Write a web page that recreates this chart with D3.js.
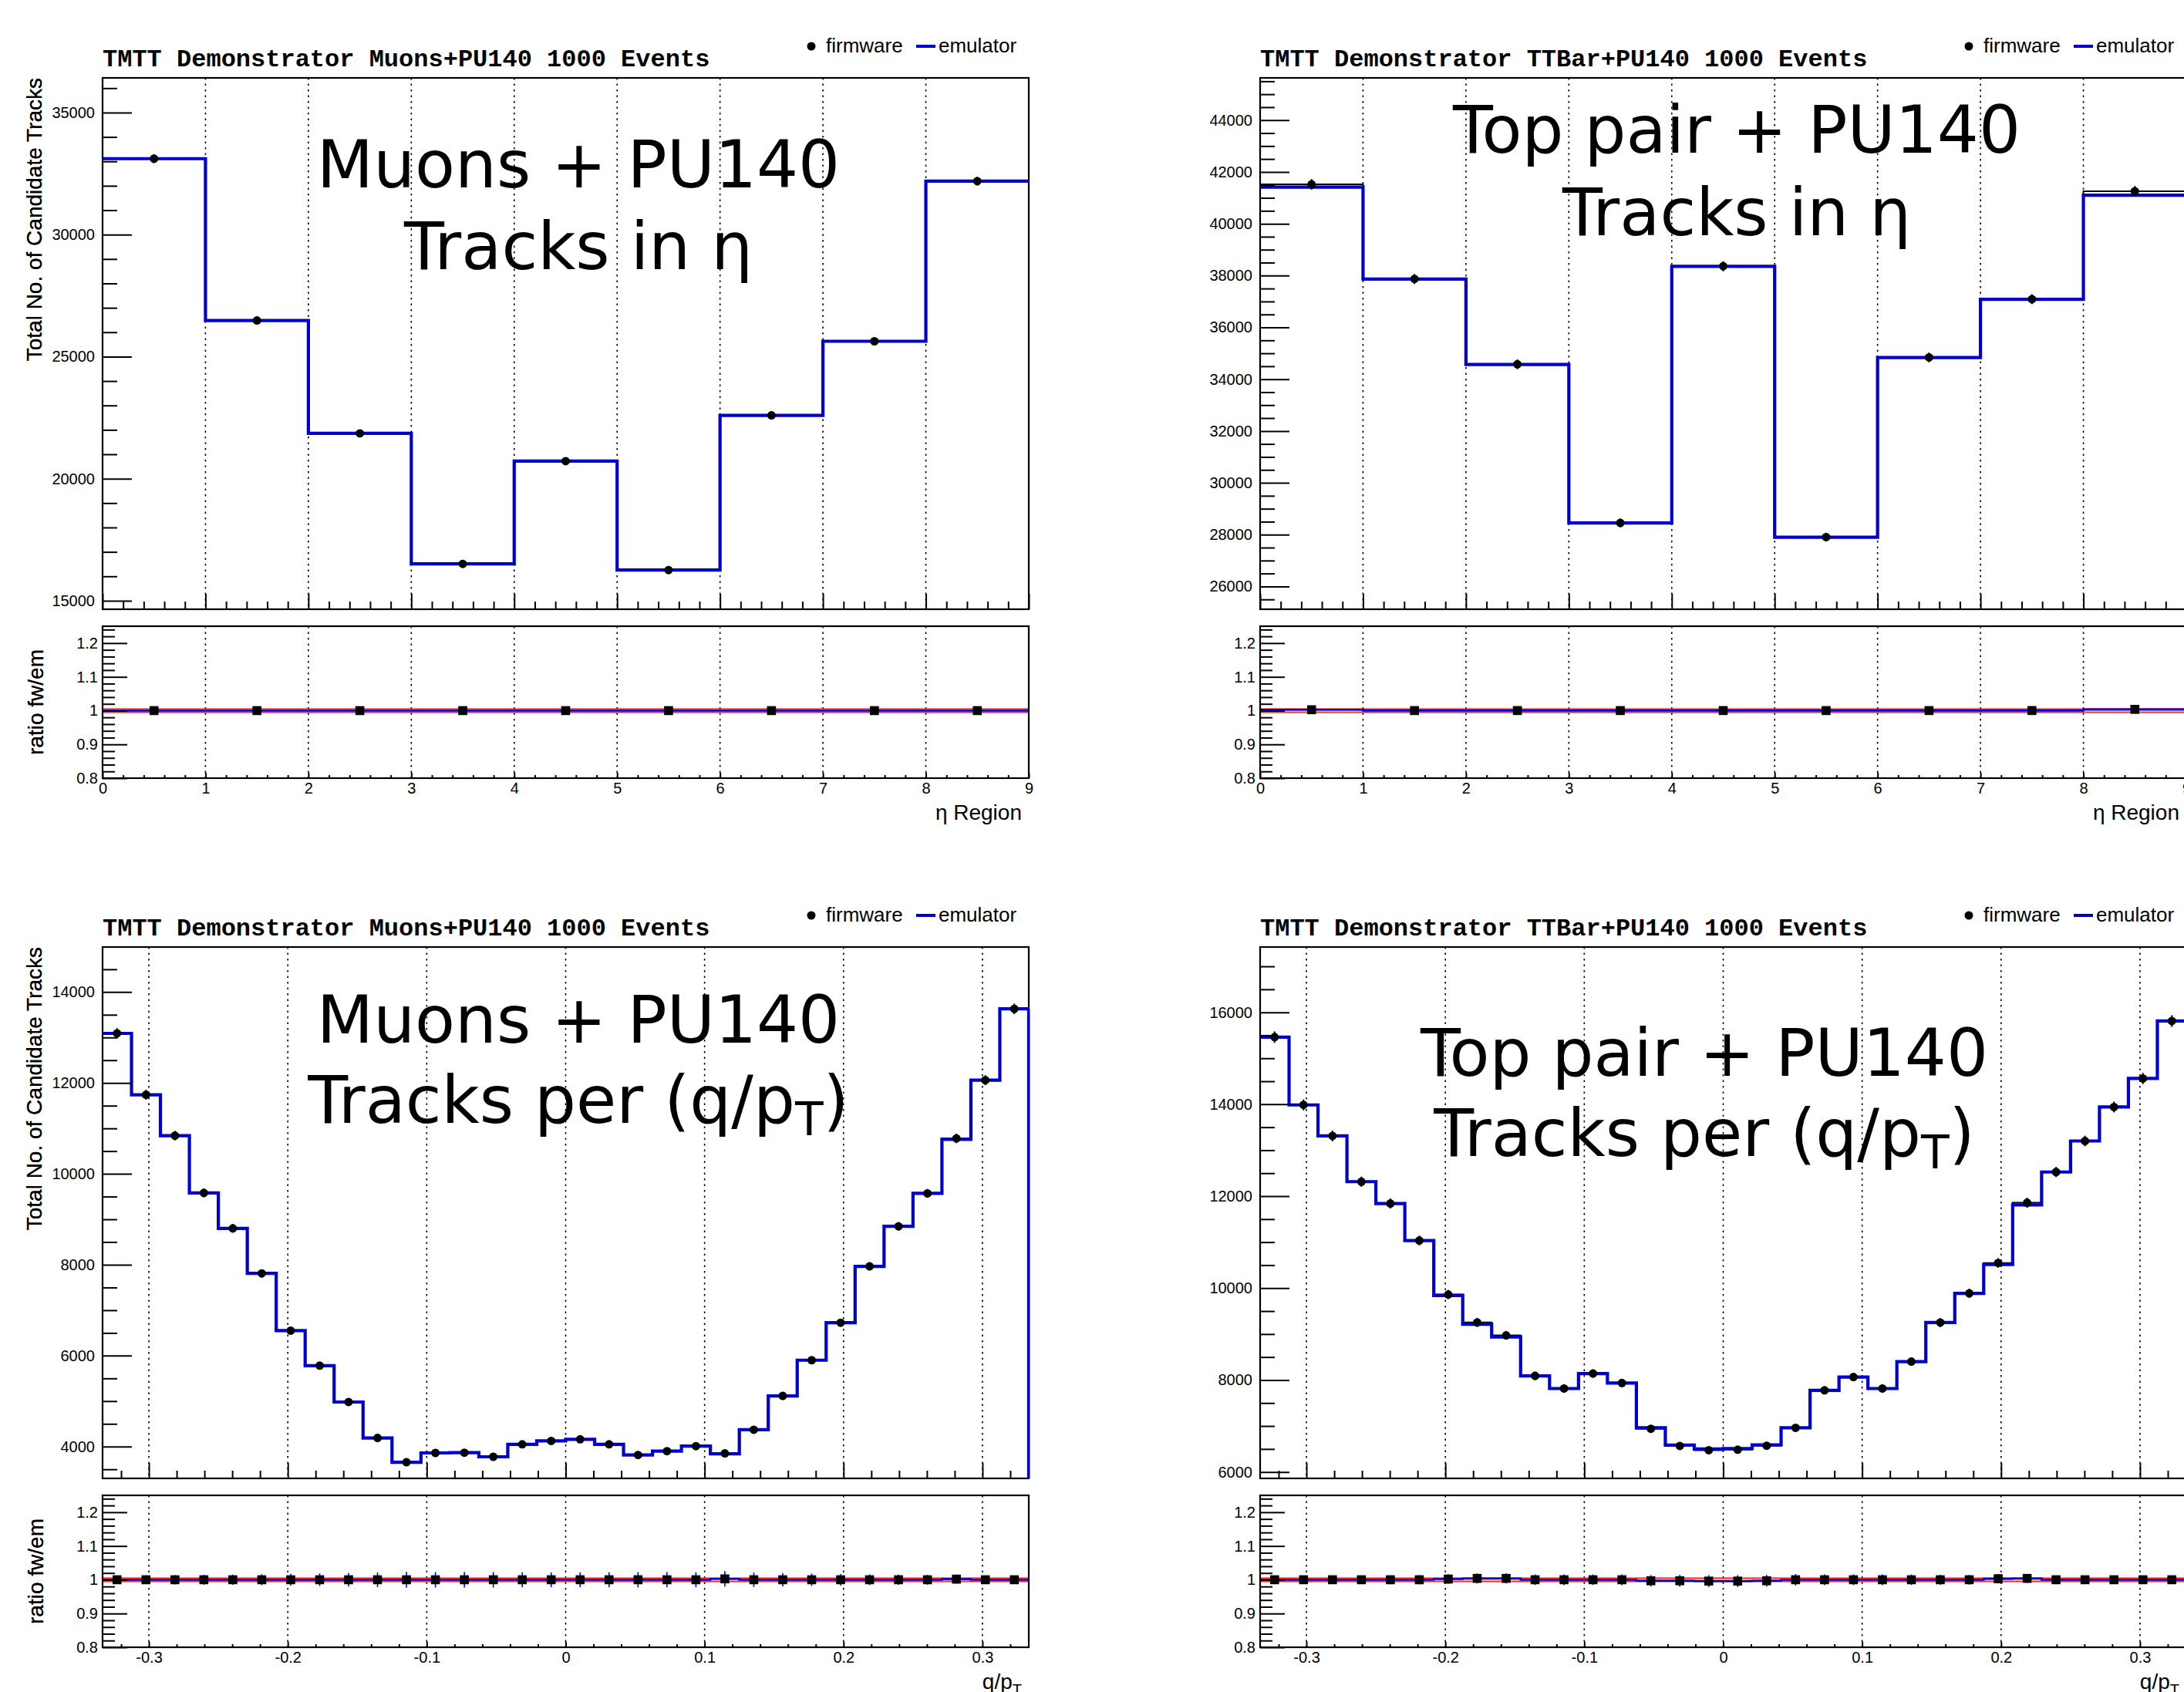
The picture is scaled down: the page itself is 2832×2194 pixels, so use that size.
<!DOCTYPE html>
<html><head><meta charset="utf-8">
<script src="https://cdn.jsdelivr.net/npm/d3@7"></script>
<style>body{margin:0;background:#fff}svg{display:block}</style>
</head><body>
<svg id="c" width="2832" height="2194"></svg>
<script>
// ---------------- DATA ----------------
const etaTickValues = [0,1,2,3,4,5,6,7,8,9];
const etaTickLabels = ["0","1","2","3","4","5","6","7","8","9"];
const qptTickValues = [-0.3,-0.2,-0.1,0,0.1,0.2,0.3];
const qptTickLabels = ["-0.3","-0.2","-0.1","0","0.1","0.2","0.3"];

const etaMuonsEmulator = [33110, 26480, 21855, 16510, 20720, 16255, 22595, 25630, 32190];
const etaMuonsFirmware = [33110, 26480, 21855, 16510, 20720, 16255, 22595, 25630, 32190];
const etaTTbarEmulator = [41413, 37865, 34569, 28449, 38353, 27902, 34835, 37082, 41103];
const etaTTbarFirmware = [41520, 37870, 34575, 28452, 38360, 27905, 34840, 37090, 41255];

const qptMuonsEmulator = [13090, 11740, 10840, 9580, 8800, 7810, 6550, 5780, 4980, 4190, 3655, 3860, 3865, 3775, 4050, 4125,
                          4160, 4050, 3815, 3900, 4010, 3840, 4370, 5115, 5900, 6725, 7965, 8845, 9570, 10760, 12060, 13630];
const qptMuonsFirmware = [13090, 11740, 10840, 9580, 8800, 7810, 6550, 5780, 4980, 4190, 3655, 3860, 3865, 3775, 4050, 4125,
                          4160, 4050, 3815, 3900, 4010, 3850, 4370, 5115, 5900, 6725, 7965, 8845, 9570, 10780, 12060, 13630];
const qptTTbarEmulator = [15460, 13985, 13310, 12315, 11840, 11035, 9840, 9215, 8935, 8090, 7815, 8140, 7935, 6960, 6585, 6500,
                          6510, 6590, 6960, 7775, 8065, 7815, 8400, 9250, 9885, 10515, 11810, 12525, 13200, 13940, 14560, 15810];
const qptTTbarFirmware = [15460, 13985, 13310, 12315, 11840, 11035, 9860, 9252, 8971, 8090, 7815, 8140, 7935, 6939, 6565, 6474,
                          6484, 6570, 6960, 7775, 8065, 7815, 8400, 9250, 9885, 10547, 11857, 12525, 13200, 13940, 14560, 15810];

const yTicksEtaMuons = [15000, 20000, 25000, 30000, 35000];
const yTicksEtaTTbar = [26000, 28000, 30000, 32000, 34000, 36000, 38000, 40000, 42000, 44000];
const yTicksQptMuons = [4000, 6000, 8000, 10000, 12000, 14000];
const yTicksQptTTbar = [6000, 8000, 10000, 12000, 14000, 16000];
const ratioTickValues = [0.8, 0.9, 1.0, 1.1, 1.2];
const ratioTickLabels = ["0.8", "0.9", "1", "1.1", "1.2"];

const panelTitles = ["TMTT Demonstrator Muons+PU140 1000 Events", "TMTT Demonstrator TTBar+PU140 1000 Events",
                     "TMTT Demonstrator Muons+PU140 1000 Events", "TMTT Demonstrator TTBar+PU140 1000 Events"];
const bigLine1 = ["Muons + PU140", "Top pair + PU140", "Muons + PU140", "Top pair + PU140"];
const bigLine2 = ["Tracks in η", "Tracks in η", "Tracks per (q/p", "Tracks per (q/p"];
const legendLabels = ["firmware", "emulator"];
const yTitle = "Total No. of Candidate Tracks";
const ratioTitle = "ratio fw/em";

// ---------------- LAYOUT ----------------
const svg = d3.select("#c");
svg.append("rect").attr("width", 2832).attr("height", 2194).attr("fill", "#fff");
const BLUE = "#0000cc";
const SANS = "'Liberation Sans', Arial, Helvetica, sans-serif";

const panels = [
  {col:0,row:0,em:etaMuonsEmulator,fw:etaMuonsFirmware,xDomain:[0,9],xTicks:etaTickValues,xLabels:etaTickLabels,xMinor:0.2,
   yDomain:[14650,36420],yTicks:yTicksEtaMuons,yMinor:1000,xTitle:"eta",bigX:750,bigY:[243,349],drop:false,sub:false},
  {col:1,row:0,em:etaTTbarEmulator,fw:etaTTbarFirmware,xDomain:[0,9],xTicks:etaTickValues,xLabels:etaTickLabels,xMinor:0.2,
   yDomain:[25120,45630],yTicks:yTicksEtaTTbar,yMinor:500,xTitle:"eta",bigX:2252,bigY:[198,305],drop:false,sub:false},
  {col:0,row:1,em:qptMuonsEmulator,fw:qptMuonsFirmware,xDomain:[-1/3,1/3],xTicks:qptTickValues,xLabels:qptTickLabels,xMinor:0.02,
   yDomain:[3300,14990],yTicks:yTicksQptMuons,yMinor:500,xTitle:"qpt",bigX:750,bigY:[1352-1127,1456-1127],drop:true,sub:true},
  {col:1,row:1,em:qptTTbarEmulator,fw:qptTTbarFirmware,xDomain:[-1/3,1/3],xTicks:qptTickValues,xLabels:qptTickLabels,xMinor:0.02,
   yDomain:[5860,17420],yTicks:yTicksQptTTbar,yMinor:500,xTitle:"qpt",bigX:2210,bigY:[1395-1127,1499-1127],drop:true,sub:true}
];

function minorTicks(domain, step, majors) {
  const out = [];
  const start = Math.ceil(domain[0] / step - 1e-9);
  const end = Math.floor(domain[1] / step + 1e-9);
  for (let k = start; k <= end; k++) {
    const v = +(k * step).toFixed(9);
    if (!majors.some(m => Math.abs(m - v) < step * 1e-3)) out.push(v);
  }
  return out;
}

function styleAxis(g, size) {
  g.select(".domain").remove();
  g.selectAll("line").attr("stroke", "#000").attr("stroke-width", 2);
  g.selectAll("text").attr("font-family", SANS).attr("font-size", size).attr("fill", "#000");
}

panels.forEach((p, idx) => {
  const x0 = p.col === 0 ? 133 : 1634;
  const x1 = x0 + 1201;
  const off = p.row * 1127;
  const top = 101 + off, bot = 790 + off, rTop = 812 + off, rBot = 1009 + off;
  const n = p.em.length;
  const x = d3.scaleLinear().domain(p.xDomain).range([x0, x1]);
  const y = d3.scaleLinear().domain(p.yDomain).range([bot, top]);
  const yr = d3.scaleLinear().domain([0.8, 1.25]).range([rBot, rTop]);
  const bw = (p.xDomain[1] - p.xDomain[0]) / n;
  const edge = i => p.xDomain[0] + i * bw;
  const g = svg.append("g");

  const clipId = "clip" + idx, rclipId = "rclip" + idx;
  const defs = svg.append("defs");
  defs.append("clipPath").attr("id", clipId).append("rect").attr("x", x0).attr("y", top).attr("width", x1 - x0).attr("height", bot - top);
  defs.append("clipPath").attr("id", rclipId).append("rect").attr("x", x0).attr("y", rTop).attr("width", x1 - x0).attr("height", rBot - rTop);

  // grid
  const gridX = p.xTicks.filter(v => v > p.xDomain[0] + 1e-9 && v < p.xDomain[1] - 1e-9);
  [[top, bot], [rTop, rBot]].forEach(([a, b]) => {
    g.selectAll(null).data(gridX).enter().append("line")
      .attr("x1", d => x(d)).attr("x2", d => x(d)).attr("y1", a).attr("y2", b)
      .attr("stroke", "#000").attr("stroke-width", 1.6).attr("stroke-dasharray", "2.5,5");
  });

  // histograms
  const histData = vals => {
    const arr = vals.map((v, i) => ({xv: edge(i), v}));
    arr.push({xv: edge(n), v: vals[n - 1]});
    if (p.drop) arr.push({xv: edge(n), v: p.yDomain[0]});
    return arr;
  };
  const line = d3.line().x(d => x(d.xv)).y(d => y(d.v)).curve(d3.curveStepAfter);
  const hg = g.append("g").attr("clip-path", `url(#${clipId})`);
  hg.append("path").attr("d", line(histData(p.fw))).attr("fill", "none").attr("stroke", "#000").attr("stroke-width", 2);
  hg.append("path").attr("d", line(histData(p.em))).attr("fill", "none").attr("stroke", BLUE).attr("stroke-width", 4.2);

  // firmware points with stat errors
  hg.selectAll(null).data(p.fw).enter().append("line")
    .attr("x1", (d, i) => x(edge(i) + bw / 2)).attr("x2", (d, i) => x(edge(i) + bw / 2))
    .attr("y1", d => y(d + Math.sqrt(d))).attr("y2", d => y(d - Math.sqrt(d)))
    .attr("stroke", "#000").attr("stroke-width", 2);
  hg.selectAll(null).data(p.fw).enter().append("circle")
    .attr("cx", (d, i) => x(edge(i) + bw / 2)).attr("cy", d => y(d)).attr("r", 5.5).attr("fill", "#000");

  // ratio pad
  const ratio = p.fw.map((f, i) => f / p.em[i]);
  const rerr = p.fw.map((f, i) => ratio[i] * Math.sqrt(1 / f + 1 / p.em[i]));
  const rg = g.append("g").attr("clip-path", `url(#${rclipId})`);
  rg.append("rect").attr("x", x0).attr("width", x1 - x0).attr("y", yr(1.0055)).attr("height", yr(0.9945) - yr(1.0055)).attr("fill", "#f7a6a6");
  [1.0055, 0.9945].forEach(v => rg.append("line").attr("x1", x0).attr("x2", x1).attr("y1", yr(v)).attr("y2", yr(v)).attr("stroke", "#ff0000").attr("stroke-width", 1.2));
  const rline = d3.line().x(d => x(d.xv)).y(d => yr(d.v)).curve(d3.curveStepAfter);
  const rdata = ratio.map((v, i) => ({xv: edge(i), v}));
  rdata.push({xv: edge(n), v: ratio[n - 1]});
  rg.append("path").attr("d", rline(rdata)).attr("fill", "none").attr("stroke", BLUE).attr("stroke-width", 2.6);
  rg.selectAll(null).data(ratio).enter().append("line")
    .attr("x1", (d, i) => x(edge(i) + bw / 2)).attr("x2", (d, i) => x(edge(i) + bw / 2))
    .attr("y1", (d, i) => yr(d + rerr[i])).attr("y2", (d, i) => yr(d - rerr[i]))
    .attr("stroke", "#0000ff").attr("stroke-width", 1.6);
  rg.selectAll(null).data(ratio).enter().append("rect")
    .attr("x", (d, i) => x(edge(i) + bw / 2) - 5.8).attr("y", d => yr(d) - 5.8)
    .attr("width", 11.6).attr("height", 11.6).attr("fill", "#000");

  // axes: main
  const xMinor = minorTicks(p.xDomain, p.xMinor, p.xTicks);
  const yMinor = minorTicks(p.yDomain, p.yMinor, p.yTicks);
  styleAxis(g.append("g").attr("transform", `translate(0,${bot})`)
    .call(d3.axisBottom(x).tickValues(p.xTicks).tickSize(-20).tickFormat("")), 20);
  styleAxis(g.append("g").attr("transform", `translate(0,${bot})`)
    .call(d3.axisBottom(x).tickValues(xMinor).tickSize(-10).tickFormat("")), 20);
  styleAxis(g.append("g").attr("transform", `translate(${x0},0)`)
    .call(d3.axisLeft(y).tickValues(p.yTicks).tickSize(-38).tickPadding(10).tickFormat(d3.format("d"))), 20);
  styleAxis(g.append("g").attr("transform", `translate(${x0},0)`)
    .call(d3.axisLeft(y).tickValues(yMinor).tickSize(-19).tickFormat("")), 20);

  // axes: ratio
  const xLab = new Map(p.xTicks.map((v, i) => [v, p.xLabels[i]]));
  styleAxis(g.append("g").attr("transform", `translate(0,${rBot})`)
    .call(d3.axisBottom(x).tickValues(p.xTicks).tickSize(-7).tickPadding(6).tickFormat(d => xLab.get(d))), 20);
  styleAxis(g.append("g").attr("transform", `translate(0,${rBot})`)
    .call(d3.axisBottom(x).tickValues(xMinor).tickSize(-4).tickFormat("")), 20);
  const rLab = new Map(ratioTickValues.map((v, i) => [v, ratioTickLabels[i]]));
  styleAxis(g.append("g").attr("transform", `translate(${x0},0)`)
    .call(d3.axisLeft(yr).tickValues(ratioTickValues).tickSize(-32).tickPadding(6).tickFormat(d => rLab.get(d))), 20);
  styleAxis(g.append("g").attr("transform", `translate(${x0},0)`)
    .call(d3.axisLeft(yr).tickValues(minorTicks([0.8, 1.25], 0.02, ratioTickValues)).tickSize(-16).tickFormat("")), 20);

  // frames
  [[top, bot], [rTop, rBot]].forEach(([a, b]) => {
    g.append("rect").attr("x", x0).attr("y", a).attr("width", x1 - x0).attr("height", b - a)
      .attr("fill", "none").attr("stroke", "#000").attr("stroke-width", 2.2);
  });
  if (p.drop) {
    g.append("line").attr("x1", x(edge(n))).attr("x2", x(edge(n)))
      .attr("y1", y(p.em[n - 1])).attr("y2", bot).attr("stroke", BLUE).attr("stroke-width", 3);
  }

  // titles
  g.append("text").attr("x", x0).attr("y", 86 + off).text(panelTitles[idx])
    .attr("font-family", "'Liberation Mono', 'DejaVu Sans Mono', monospace").attr("font-weight", "bold")
    .attr("font-size", 32).attr("fill", "#000");

  // legend
  g.append("circle").attr("cx", x1 - 282).attr("cy", 60 + off).attr("r", 5.5).attr("fill", "#000");
  g.append("text").attr("x", x1 - 263).attr("y", 68 + off).text(legendLabels[0])
    .attr("font-family", SANS).attr("font-size", 26).attr("fill", "#000");
  g.append("line").attr("x1", x1 - 146).attr("x2", x1 - 121).attr("y1", 60 + off).attr("y2", 60 + off)
    .attr("stroke", BLUE).attr("stroke-width", 4);
  g.append("text").attr("x", x1 - 117).attr("y", 68 + off).text(legendLabels[1])
    .attr("font-family", SANS).attr("font-size", 26).attr("fill", "#000");

  // y titles
  g.append("text").attr("transform", `translate(54,${top}) rotate(-90)`).attr("text-anchor", "end")
    .text(yTitle).attr("font-family", SANS).attr("font-size", 28).attr("fill", "#000");
  g.append("text").attr("transform", `translate(56,${(rTop + rBot) / 2}) rotate(-90)`).attr("text-anchor", "middle")
    .text(ratioTitle).attr("font-family", SANS).attr("font-size", 28).attr("fill", "#000");

  // x title
  const xt = g.append("text").attr("x", x1 - 9).attr("y", 1063 + off).attr("text-anchor", "end")
    .attr("font-family", SANS).attr("font-size", 28).attr("fill", "#000");
  if (p.xTitle === "eta") xt.text("η Region");
  else { xt.text("q/p"); xt.append("tspan").attr("font-size", 20).attr("dy", 8).text("T"); }

  // big annotation text
  const bt = {"font-family": "'DejaVu Sans', Verdana, sans-serif", "font-size": 85, "fill": "#000", "text-anchor": "middle"};
  const t1 = g.append("text").attr("x", p.bigX).attr("y", p.bigY[0] + off).text(bigLine1[idx]);
  const t2 = g.append("text").attr("x", p.bigX).attr("y", p.bigY[1] + off);
  Object.entries(bt).forEach(([k, v]) => { t1.attr(k, v); t2.attr(k, v); });
  if (p.sub) {
    t2.append("tspan").text(bigLine2[idx]);
    t2.append("tspan").attr("font-size", 60).attr("dy", 16).text("T");
    t2.append("tspan").attr("dy", -16).text(")");
  } else {
    t2.text(bigLine2[idx]);
  }
});
</script>
</body></html>
